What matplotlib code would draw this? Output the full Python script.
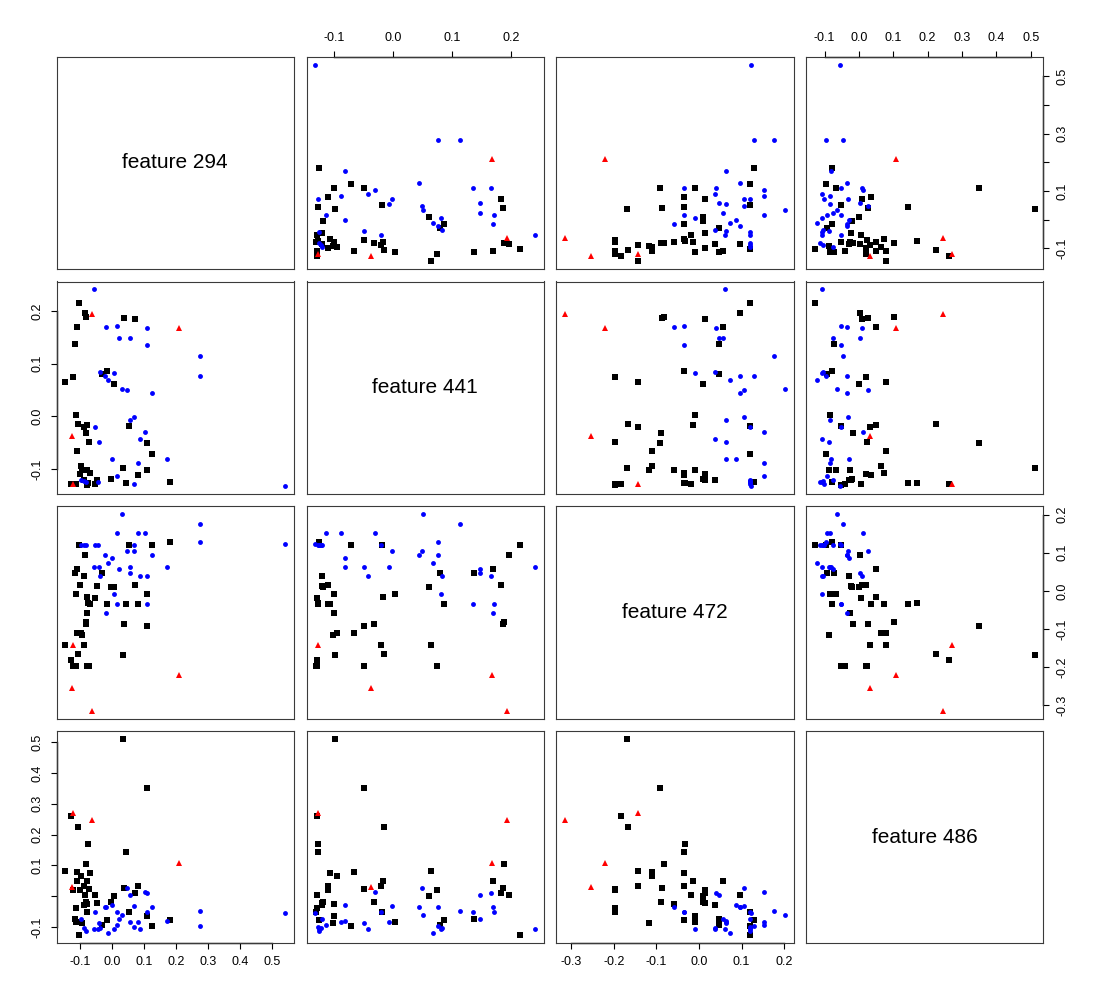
import matplotlib
matplotlib.use("Agg")
import matplotlib.pyplot as plt
import matplotlib.transforms as mtrans
from matplotlib.ticker import FixedLocator

plt.rcParams["font.family"] = ["Liberation Sans", "DejaVu Sans"]
plt.rcParams["axes.unicode_minus"] = False

names = ["feature 294", "feature 441", "feature 472", "feature 486"]

# class 1: black squares
blk_294 = [-0.145, -0.128, -0.121, -0.114, -0.113, -0.109, -0.111, -0.110, -0.104, -0.105,
           -0.099, -0.096, -0.092, -0.088, -0.086, -0.084, -0.081, -0.081, -0.079, -0.078,
           -0.077, -0.075, -0.070, -0.067, -0.053, -0.046, -0.031, -0.016, -0.004, 0.008,
           0.035, 0.039, 0.044, 0.052, 0.072, 0.080, 0.109, 0.111, 0.125, 0.180]
blk_441 = [0.065, -0.129, 0.075, 0.138, 0.003, 0.170, -0.129, -0.066, 0.215, -0.015,
           -0.110, -0.095, -0.102, -0.021, -0.121, 0.197, 0.189, -0.032, -0.130, -0.017,
           -0.101, -0.127, -0.049, -0.107, -0.129, -0.120, 0.080, 0.086, -0.119, 0.061,
           -0.098, 0.186, -0.127, -0.018, 0.184, -0.111, -0.101, -0.050, -0.072, -0.125]
blk_472 = [-0.142, -0.182, -0.198, 0.047, -0.009, 0.057, -0.198, -0.111, 0.120, -0.166,
           0.015, -0.111, -0.117, -0.142, 0.038, 0.095, -0.082, -0.088, -0.198, -0.015,
           -0.059, -0.033, -0.198, -0.035, -0.019, 0.014, 0.047, -0.034, 0.009, 0.009,
           -0.168, -0.087, -0.034, 0.120, 0.015, -0.034, -0.009, -0.092, 0.120, 0.129]
blk_486 = [0.080, 0.262, 0.020, -0.073, -0.084, 0.049, -0.039, 0.079, -0.128, 0.224,
           0.021, 0.065, -0.088, 0.033, -0.028, 0.004, 0.103, -0.018, -0.051, 0.050,
           -0.025, 0.168, 0.024, 0.074, 0.005, -0.023, -0.093, -0.077, -0.019, 0.000,
           0.511, 0.027, 0.142, -0.053, 0.009, 0.034, -0.066, 0.350, -0.096, -0.079]

# class 2: blue dots
blu_294 = [-0.095, -0.088, -0.081, -0.055, -0.053, -0.043, -0.040, -0.036, -0.022, -0.017,
           -0.011, 0.000, 0.005, 0.015, 0.017, 0.022, 0.032, 0.048, 0.055, 0.057,
           0.070, 0.070, 0.082, 0.089, 0.103, 0.109, 0.109, 0.126, 0.171, 0.276,
           0.276, 0.541]
blu_441 = [-0.121, -0.122, -0.125, 0.241, -0.020, -0.125, -0.049, 0.084, 0.077, 0.170,
           0.068, -0.081, 0.082, -0.114, 0.172, 0.148, 0.051, 0.049, -0.007, 0.148,
           -0.001, -0.128, -0.088, -0.043, -0.030, 0.167, 0.136, 0.044, -0.081, 0.114,
           0.076, -0.132]
blu_472 = [0.120, 0.120, 0.120, 0.062, 0.120, 0.120, 0.063, 0.038, 0.095, -0.059,
           0.072, 0.087, -0.009, 0.152, -0.034, 0.057, 0.201, 0.105, 0.063, 0.048,
           0.105, 0.120, 0.152, 0.038, 0.152, 0.039, -0.034, 0.095, 0.063, 0.176,
           0.129, 0.122]
blu_486 = [-0.076, -0.103, -0.112, -0.106, -0.051, -0.106, -0.087, -0.105, -0.035, -0.035,
           -0.121, -0.028, -0.106, -0.093, -0.051, -0.076, -0.063, 0.026, -0.085, 0.004,
           -0.033, -0.101, -0.083, -0.106, 0.012, 0.010, -0.051, -0.036, -0.082, -0.047,
           -0.096, -0.056]

# class 3: red triangles
red_294 = [-0.063, 0.210, -0.126, -0.120]
red_441 = [0.194, 0.168, -0.038, -0.128]
red_472 = [-0.314, -0.220, -0.254, -0.142]
red_486 = [0.246, 0.109, 0.031, 0.271]

cols = [
    (blk_294, blk_441, blk_472, blk_486),
    (blu_294, blu_441, blu_472, blu_486),
    (red_294, red_441, red_472, red_486),
]
styles = [dict(marker="s", ms=3.8, color="black"),
          dict(marker="o", ms=3.5, color="#0000ff"),
          dict(marker="^", ms=4.8, color="#ff0000")]

# tick positions per variable and which of them R actually labelled
ticks = [[-0.1, 0.0, 0.1, 0.2, 0.3, 0.4, 0.5],
         [-0.1, 0.0, 0.1, 0.2],
         [-0.3, -0.2, -0.1, 0.0, 0.1, 0.2],
         [-0.1, 0.0, 0.1, 0.2, 0.3, 0.4, 0.5]]
y_labelled = {0: [-0.1, 0.1, 0.3, 0.5], 1: ticks[1], 2: ticks[2],
              3: [-0.1, 0.1, 0.2, 0.3, 0.4, 0.5]}

# limits like R: data range + 4%
lims = []
for v in range(4):
    allv = cols[0][v] + cols[1][v] + cols[2][v]
    lo, hi = min(allv), max(allv)
    d = (hi - lo) * 0.04
    lims.append((lo - d, hi + d))

W, H, LN = 1100, 1000, 12.6
cw, ch = (W - 8 * LN) / 4, (H - 8 * LN) / 4
pw, ph = cw - LN, ch - LN

fig = plt.figure(figsize=(11, 10), dpi=100)
fmt = lambda t: f"{t:.1f}"

for i in range(4):
    for j in range(4):
        x0 = 4.5 * LN + j * cw
        y0 = 4.5 * LN + i * ch
        ax = fig.add_axes([x0 / W, 1 - (y0 + ph) / H, pw / W, ph / H])
        for s in ax.spines.values():
            s.set_color("#3a3a3a"); s.set_linewidth(0.8)
        ax.tick_params(length=4.5, width=0.8, direction="out", labelsize=9, pad=5,
                       bottom=False, left=False, labelbottom=False, labelleft=False)
        ax.set_xlim(lims[j]); ax.set_ylim(lims[i])
        if i == j:
            ax.text(0.5, 0.5, names[i], transform=ax.transAxes, ha="center", va="center",
                    fontsize=15)
        else:
            for c, st in zip(cols, styles):
                ax.plot(c[j], c[i], ls="none", mew=0, **st)
        # outer axes, alternating sides as in R pairs()
        if (i == 0 and j % 2 == 1) or (i == 3 and j % 2 == 0):
            side = "top" if i == 0 else "bottom"
            ax.xaxis.set_major_locator(FixedLocator(ticks[j]))
            ax.set_xticklabels([fmt(t) for t in ticks[j]])
            ax.tick_params(axis="x", **{side: True, "label" + side: True})
            tr = mtrans.blended_transform_factory(ax.transData, ax.transAxes)
            yy = 1 if i == 0 else 0
            ax.plot([ticks[j][0], ticks[j][-1]], [yy, yy], color="black", lw=1.0,
                    transform=tr, clip_on=False)
        if (j == 0 and i % 2 == 1) or (j == 3 and i % 2 == 0):
            side = "left" if j == 0 else "right"
            ax.yaxis.set_major_locator(FixedLocator(ticks[i]))
            ax.set_yticklabels([fmt(t) if t in y_labelled[i] else "" for t in ticks[i]],
                               rotation=90, va="center")
            ax.tick_params(axis="y", **{side: True, "label" + side: True})
            tr = mtrans.blended_transform_factory(ax.transAxes, ax.transData)
            xx = 0 if j == 0 else 1
            ax.plot([xx, xx], [ticks[i][0], ticks[i][-1]], color="black", lw=1.0,
                    transform=tr, clip_on=False)

fig.savefig("out.png", dpi=100)
